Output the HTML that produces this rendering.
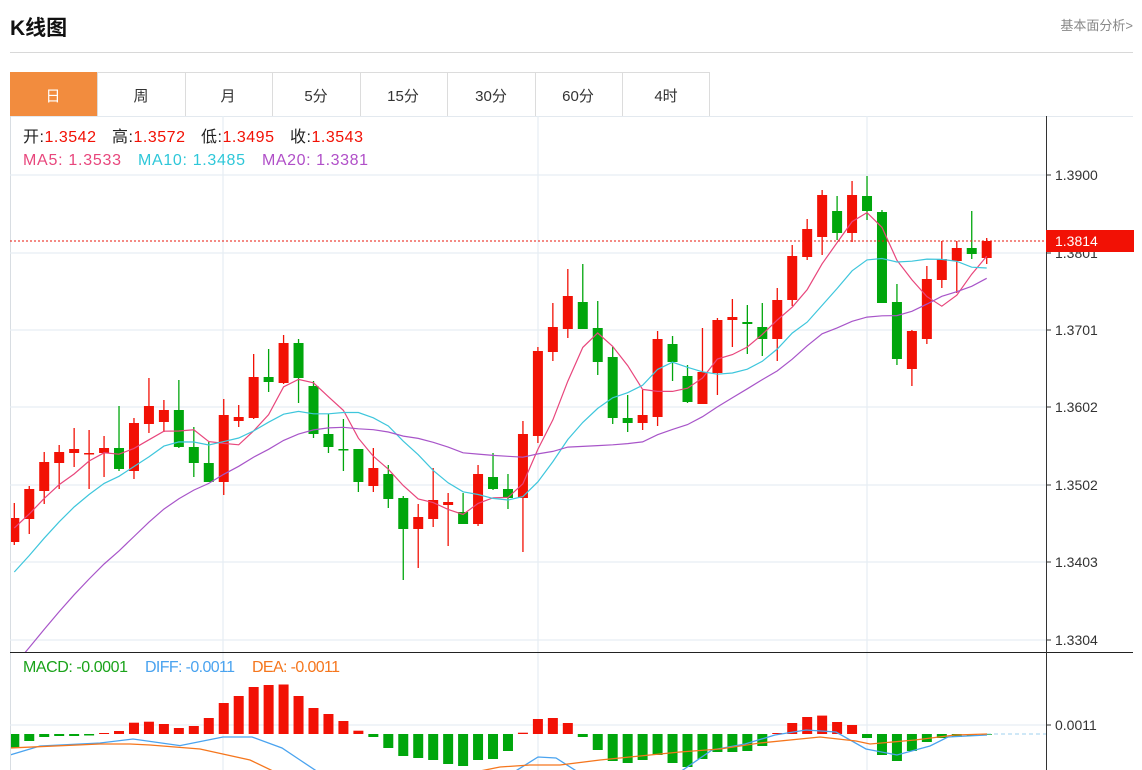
<!DOCTYPE html>
<html><head><meta charset="utf-8"><style>
html,body{margin:0;padding:0;background:#fff;width:1142px;height:770px;overflow:hidden}
svg text{font-family:"Liberation Sans","Noto Sans CJK SC",sans-serif}
</style></head><body>
<svg id="s" width="1142" height="770" viewBox="0 0 1142 770" xmlns="http://www.w3.org/2000/svg">
<text x="10" y="35" font-size="21" font-weight="bold" fill="#111">K线图</text>
<text x="1133" y="30" font-size="13" fill="#888" text-anchor="end">基本面分析&gt;</text>
<line x1="10" y1="52.5" x2="1133" y2="52.5" stroke="#d8d8d8"/>
<rect x="10.5" y="72.5" width="699" height="44" fill="#fff" stroke="#dcdcdc"/>
<rect x="10" y="72" width="87" height="44" fill="#f28c3e"/>
<g stroke="#dcdcdc"><line x1="185.5" y1="73" x2="185.5" y2="116"/><line x1="272.5" y1="73" x2="272.5" y2="116"/><line x1="360.5" y1="73" x2="360.5" y2="116"/><line x1="447.5" y1="73" x2="447.5" y2="116"/><line x1="535.5" y1="73" x2="535.5" y2="116"/><line x1="622.5" y1="73" x2="622.5" y2="116"/><line x1="97.5" y1="73" x2="97.5" y2="116"/></g>
<g font-size="15" text-anchor="middle" fill="#333">
<text x="53" y="101" fill="#fff">日</text><text x="141" y="101">周</text><text x="228" y="101">月</text><text x="316" y="101">5分</text><text x="403" y="101">15分</text><text x="491" y="101">30分</text><text x="578" y="101">60分</text><text x="666" y="101">4时</text></g>
<line x1="10" y1="116.5" x2="1133" y2="116.5" stroke="#e3e9ef"/>
<line x1="10.5" y1="116" x2="10.5" y2="770" stroke="#d8dde2"/>
<g stroke="#e6edf3" stroke-width="1.2">
<line x1="10" y1="175" x2="1046" y2="175"/><line x1="10" y1="253" x2="1046" y2="253"/><line x1="10" y1="330" x2="1046" y2="330"/><line x1="10" y1="407" x2="1046" y2="407"/><line x1="10" y1="485" x2="1046" y2="485"/><line x1="10" y1="562" x2="1046" y2="562"/><line x1="10" y1="640" x2="1046" y2="640"/><line x1="10" y1="725" x2="1046" y2="725"/>
<line x1="223" y1="116" x2="223" y2="770"/><line x1="538" y1="116" x2="538" y2="770"/><line x1="867" y1="116" x2="867" y2="770"/></g>
<g id="chart"></g>
<line x1="10" y1="652.5" x2="1133" y2="652.5" stroke="#222"/>
<line x1="1046.5" y1="116" x2="1046.5" y2="770" stroke="#333"/>
<g stroke="#333"><line x1="1046" y1="175" x2="1051" y2="175"/><line x1="1046" y1="253" x2="1051" y2="253"/><line x1="1046" y1="330" x2="1051" y2="330"/><line x1="1046" y1="407" x2="1051" y2="407"/><line x1="1046" y1="485" x2="1051" y2="485"/><line x1="1046" y1="562" x2="1051" y2="562"/><line x1="1046" y1="640" x2="1051" y2="640"/><line x1="1046" y1="725" x2="1051" y2="725"/></g>
<g font-size="14" fill="#333"><text x="1055" y="180">1.3900</text><text x="1055" y="258">1.3801</text><text x="1055" y="335">1.3701</text><text x="1055" y="412">1.3602</text><text x="1055" y="490">1.3502</text><text x="1055" y="567">1.3403</text><text x="1055" y="645">1.3304</text><text x="1055" y="730">0.0011</text></g>
<line x1="10" y1="241" x2="1046" y2="241" stroke="#e8140a" stroke-dasharray="2,2"/>
<line x1="987" y1="734" x2="1046" y2="734" stroke="#9fd0ef" stroke-dasharray="4,3"/>
<rect x="1046" y="230" width="88" height="22" fill="#f21105"/>
<text x="1055" y="246" font-size="14" fill="#fff">1.3814</text>
<g font-size="16" fill="#222">
<text x="23" y="142" textLength="73">开:<tspan fill="#f21105">1.3542</tspan></text>
<text x="112" y="142" textLength="73">高:<tspan fill="#f21105">1.3572</tspan></text>
<text x="201" y="142" textLength="73">低:<tspan fill="#f21105">1.3495</tspan></text>
<text x="290" y="142" textLength="73">收:<tspan fill="#f21105">1.3543</tspan></text>
<text x="23" y="165" textLength="98" fill="#e8467c">MA5: 1.3533</text>
<text x="138" y="165" textLength="107" fill="#2ec7d9">MA10: 1.3485</text>
<text x="262" y="165" textLength="106" fill="#b04fc8">MA20: 1.3381</text>
<text x="23" y="672" textLength="105" fill="#1aa31a">MACD: -0.0001</text>
<text x="145" y="672" textLength="90" fill="#4aa3ef">DIFF: -0.0011</text>
<text x="252" y="672" textLength="88" fill="#f5761d">DEA: -0.0011</text>
</g>
</svg>
<script>
var D=[["r",518,542,503,545],["r",489,519,486,534],["r",462,491,452,504],["r",452,463,445,489],["r",449,453,428,467],["r",453,454,430,489],["r",448,453,436,477],["g",448,469,406,471],["r",423,471,418,479],["r",406,424,378,433],["r",410,422,400,432],["g",410,447,380,448],["g",447,463,427,477],["g",463,482,442,482],["r",415,482,399,495],["r",417,421,405,427],["r",377,418,354,419],["g",377,382,349,392],["r",343,383,335,384],["g",343,378,339,403],["g",386,434,381,438],["g",434,447,414,453],["g",449,450,419,471],["g",449,482,449,492],["r",468,486,448,492],["g",474,499,465,508],["g",498,529,496,580],["r",517,529,504,568],["r",500,519,468,527],["r",502,505,493,546],["g",512,524,493,524],["r",474,524,465,526],["g",477,489,453,490],["g",489,498,474,509],["r",434,498,421,552],["r",351,436,347,443],["r",327,352,303,361],["r",296,329,269,338],["g",302,329,264,329],["g",328,362,301,375],["g",357,418,347,424],["g",418,423,395,432],["r",415,423,390,430],["r",339,417,331,426],["g",344,362,336,381],["g",376,402,365,403],["r",372,404,328,404],["r",320,373,318,395],["r",317,320,299,347],["g",322,324,305,354],["g",327,339,303,356],["r",300,339,288,361],["r",256,300,245,306],["r",229,257,219,260],["r",195,237,190,255],["g",211,233,196,240],["r",195,233,181,242],["g",196,211,176,220],["g",212,303,210,303],["g",302,359,284,365],["r",331,369,330,386],["r",279,339,266,344],["r",259,280,241,288],["r",248,261,241,293],["g",248,254,211,259],["r",241,258,238,264]];
var M=[748,741,737,736,736,735.5,733,731,722.7,721.7,724,728,726,718,703,696,687,685,684.5,696,708,714,721,730.7,737,748,756,758,760,764,766,760,759,751,732.7,719,718,723,737,750,761,763,760,755,763,767,759,752,752,751,746,733,723,717,715.6,722,725,738,755,761,751,742,738,737,735.5,735];
var R="#f21105",G="#00a60c";
function X(i){return 14.3+14.96*i;}
var h='<defs><clipPath id="c1"><rect x="11" y="117" width="1035" height="535"/></clipPath><clipPath id="c2"><rect x="11" y="653" width="1035" height="117"/></clipPath></defs><g clip-path="url(#c1)">';
var closes=[];for(var k=-19;k<0;k++)closes.push(483-19*k);
D.forEach(function(d,i){var x=X(i),c=d[0]=="r"?R:G;
h+='<line x1="'+x+'" y1="'+d[3]+'" x2="'+x+'" y2="'+d[4]+'" stroke="'+c+'" stroke-width="1.3"/>';
h+='<rect x="'+(x-5)+'" y="'+d[1]+'" width="10" height="'+Math.max(1.5,d[2]-d[1])+'" fill="'+c+'"/>';
closes.push(d[0]=="r"?d[1]:d[2]);});
function ma(n,col){var p=[];for(var i=0;i<D.length;i++){var s=0;for(var j=0;j<n;j++)s+=closes[i+19-j];p.push(X(i).toFixed(1)+","+(s/n).toFixed(1));}
h+='<polyline points="'+p.join(" ")+'" fill="none" stroke="'+col+'" stroke-width="1.2"/>';}
ma(5,"#e8467c");ma(10,"#3ec6dc");ma(20,"#a855c9");
h+='</g><g clip-path="url(#c2)">';
M.forEach(function(v,i){var x=X(i);var t=Math.min(v,734),b=Math.max(v,734);
h+='<rect x="'+(x-5)+'" y="'+t+'" width="10" height="'+Math.max(1,b-t)+'" fill="'+(v<734?R:G)+'"/>';});
h+='<polyline points="10,755 40,746 100,743 133,739 180,745.6 223,737 252,737 282,748 300,760 318,772" fill="none" stroke="#4aa3ef" stroke-width="1.3"/>';
h+='<polyline points="514,772 538,757 556,758 578,772" fill="none" stroke="#4aa3ef" stroke-width="1.3"/>';
h+='<polyline points="680,772 712,750 745,744 775,735 806,730 836,732 866,749 897,755 930,746 948,737 987,735" fill="none" stroke="#4aa3ef" stroke-width="1.3"/>';
h+='<polyline points="10,748 100,744 130,744 150,745 200,749 250,760 275,772" fill="none" stroke="#f5761d" stroke-width="1.3"/>';
h+='<polyline points="475,772 500,767 530,765 560,765 600,760 680,752 720,749 760,743 800,739 820,737 856,741 870,744 915,740 955,735 987,734" fill="none" stroke="#f5761d" stroke-width="1.3"/>';
h+='</g>';
document.getElementById("chart").innerHTML=h;
</script>
</body></html>
